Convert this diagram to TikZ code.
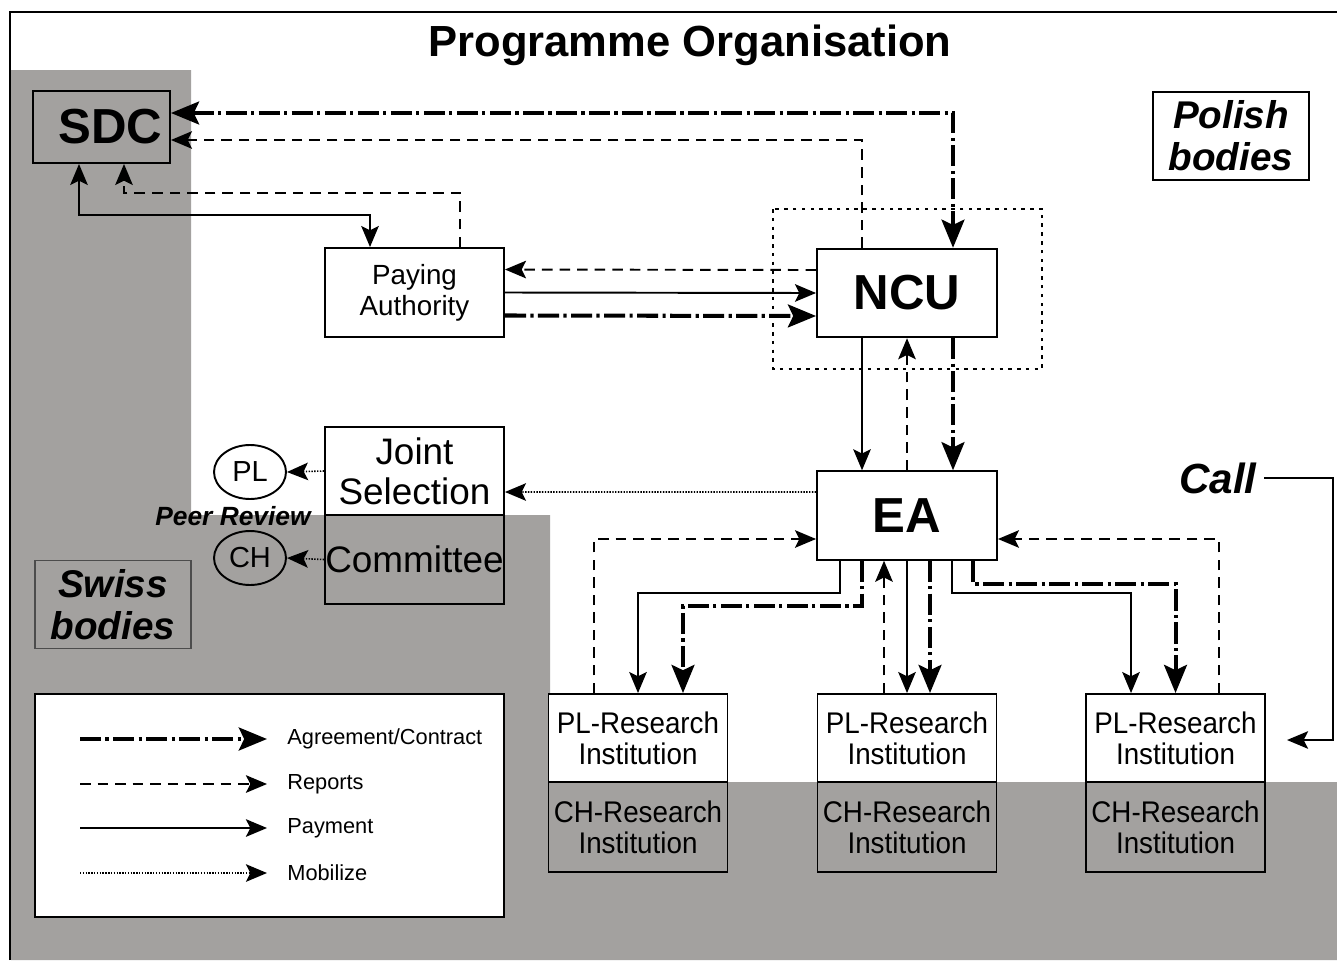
\documentclass[tikz,border=0pt]{standalone}
\usepackage{fontspec}
\setmainfont{Liberation Sans}
\newfontfamily\narrowfont[FakeStretch=0.93]{Liberation Sans}
\usetikzlibrary{arrows.meta,shapes.geometric}
\definecolor{swissgray}{RGB}{163,161,159}

\begin{document}
\begin{tikzpicture}[x=0.02cm, y=-0.02cm,
  every node/.style = {align=center, inner sep=0pt},
  box/.style = {shape=rectangle, draw, line width=1.1pt},
  agreetip/.tip = {Stealth[length=16pt, width=13pt, inset=3pt]},
  smalltip/.tip = {Stealth[length=12pt, width=10pt, inset=2.5pt]},
  agreement/.style = {line width=2.3pt, dash pattern=on 12pt off 2.5pt on 1.8pt off 2.5pt, -agreetip},
  report/.style = {line width=1.1pt, dash pattern=on 6pt off 4pt, -smalltip},
  payment/.style = {line width=1.1pt, -smalltip},
  mobilize/.style = {line width=0.9pt, dash pattern=on 0.8pt off 0.8pt, -smalltip}]
    \tikzstyle{bigbox}=[box, fill=white, minimum width=3.6cm, minimum height=1.77cm, font=\bfseries\fontsize{28}{30}\selectfont]
    \tikzstyle{plbox}=[box, fill=white, minimum width=3.58cm, minimum height=1.76cm, font=\narrowfont\fontsize{17}{17.6}\selectfont]
    \tikzstyle{chbox}=[box, minimum width=3.58cm, minimum height=1.8cm, font=\narrowfont\fontsize{17}{17.6}\selectfont]
    \tikzstyle{bodies}=[box, minimum width=3.12cm, minimum height=1.77cm, font=\bfseries\itshape\fontsize{22}{24}\selectfont]
  \useasboundingbox (0,0) rectangle (1337,960);
  % swiss area and frame
  \fill[swissgray] (11,70) -- (191,70) -- (191,515) -- (550,515) -- (550,782)
    -- (1337,782) -- (1337,960) -- (11,960) -- cycle;
  \draw[line width=1.7pt] (10,960) -- (10,12) -- (1337,12);
  \draw[line width=1.1pt, dash pattern=on 2pt off 3pt] (773,209) rectangle (1042,369);

  \node[font=\bfseries\fontsize{24.8}{28}\selectfont] (title) at (690,45) {Programme Organisation};
  \node[bodies, fill=white, line width=0.9pt] (polish) at (1231,136) {Polish\\bodies};
  \node[bodies, draw=black!70, line width=0.8pt] (swiss) at (113,604.5) {Swiss\\bodies};
  \node[box, fill=swissgray, minimum width=2.74cm, minimum height=1.44cm,
    font=\bfseries\fontsize{28}{30}\selectfont] (SDC) at (101.5,127) {\hspace*{0.36cm}SDC};
  \node[box, fill=white, minimum width=3.58cm, minimum height=1.78cm,
    font=\fontsize{15.8}{17.6}\selectfont] (PA) at (414.5,292.5) {Paying\\Authority};
  \node[bigbox] (NCU) at (907,293) {NCU};
  \node[bigbox] (EA) at (907,515.5) {EA};
  \node[box, fill=white, minimum width=3.58cm, minimum height=1.76cm,
    font=\fontsize{21}{22.7}\selectfont] (JS) at (414.5,471) {Joint\\Selection};
  \node[box, minimum width=3.58cm, minimum height=1.78cm,
    font=\fontsize{21}{22.7}\selectfont] (JC) at (414.5,559.5) {Committee};
  \node[draw, ellipse, line width=1.1pt, fill=white, minimum width=1.44cm, minimum height=1.08cm,
    font=\fontsize{16.5}{18}\selectfont] (PLr) at (250,472) {PL};
  \node[draw, ellipse, line width=1.1pt, minimum width=1.44cm, minimum height=1.08cm,
    font=\fontsize{16.5}{18}\selectfont] (CHr) at (250,558) {CH};
  \node[font=\bfseries\itshape\fontsize{15}{17}\selectfont] (peer) at (233,516) {Peer Review};
  \node[font=\bfseries\itshape\fontsize{24}{26}\selectfont, inner sep=4pt] (call) at (1218,478) {Call};
  \node[plbox] (PL1) at (638,738) {PL-Research\\Institution};
  \node[chbox] (CH1) at (638,827) {CH-Research\\Institution};
  \node[plbox] (PL2) at (907,738) {PL-Research\\Institution};
  \node[chbox] (CH2) at (907,827) {CH-Research\\Institution};
  \node[plbox] (PL3) at (1175.5,738) {PL-Research\\Institution};
  \node[chbox] (CH3) at (1175.5,827) {CH-Research\\Institution};
  \node[box, fill=white, minimum width=9.38cm, minimum height=4.46cm] (legend) at (269.5,805.5) {};

  % SDC - NCU - Paying Authority
  \draw[agreement, agreetip-agreetip] ([yshift=0.28cm]SDC.east) -| ([xshift=0.92cm]NCU.north);
  \draw[report] ([xshift=-0.9cm]NCU.north) |- ([yshift=-0.26cm]SDC.east);
  \draw[payment, smalltip-smalltip] ([xshift=-0.45cm]SDC.south) -- ++(0,51) -| ([xshift=-0.89cm]PA.north);
  \draw[report] ([xshift=0.91cm]PA.north) -- ++(0,-54) -| ([xshift=0.45cm]SDC.south);
  \draw[report] ([yshift=0.46cm]NCU.west) -- ([yshift=0.46cm]PA.east);
  \draw[payment] (PA.east) -- (NCU.west);
  \draw[agreement] ([yshift=-0.46cm]PA.east) -- ([yshift=-0.46cm]NCU.west);

  % NCU - EA
  \draw[payment] ([xshift=-0.9cm]NCU.south) -- ([xshift=-0.9cm]EA.north);
  \draw[report] (EA.north) -- (NCU.south);
  \draw[agreement] ([xshift=0.92cm]NCU.south) -- ([xshift=0.92cm]EA.north);

  % selection
  \draw[mobilize] ([yshift=0.47cm]EA.west) -- ([yshift=-0.42cm]JS.east);
  \draw[mobilize] (JS.west) -- (PLr.east);
  \draw[mobilize] (JC.west) -- (CHr.east);

  % EA - research institutions
  \draw[report] ([xshift=-0.88cm]PL1.north) |- ([yshift=-0.47cm]EA.west);
  \draw[payment] ([xshift=-1.34cm]EA.south) -- ++(0,32) -| (PL1.north);
  \draw[agreement] ([xshift=-0.9cm]EA.south) -- ++(0,45) -| ([xshift=0.9cm]PL1.north);
  \draw[report] ([xshift=-0.46cm]PL2.north) -- ([xshift=-0.46cm]EA.south);
  \draw[payment] (EA.south) -- (PL2.north);
  \draw[agreement] ([xshift=0.46cm]EA.south) -- ([xshift=0.46cm]PL2.north);
  \draw[payment] ([xshift=0.9cm]EA.south) -- ++(0,32) -| ([xshift=-0.89cm]PL3.north);
  \draw[agreement] ([xshift=1.32cm]EA.south) -- ++(0,23) -| (PL3.north);
  \draw[report] ([xshift=0.87cm]PL3.north) |- ([yshift=-0.47cm]EA.east);

  % call
  \coordinate (callbend) at (1333,740);
  \coordinate (callend) at (1287,740);
  \draw[line width=0.85pt, -smalltip] (call.east) -| (callbend) -- (callend);

  % legend
  \foreach \sty/\txt/\yy [count=\i] in {agreement/{Agreement/Contract}/739, report/Reports/784,
      payment/Payment/828, mobilize/Mobilize/873} {
    \coordinate (legfrom\i) at (80,\yy);
    \coordinate (legto\i) at (267,\yy);
    \node[anchor=west, font=\fontsize{12.4}{14}\selectfont] (legtext\i) at (287,\yy) {\txt};
    \draw[\sty] (legfrom\i) -- (legto\i);
  }
\end{tikzpicture}
\end{document}
